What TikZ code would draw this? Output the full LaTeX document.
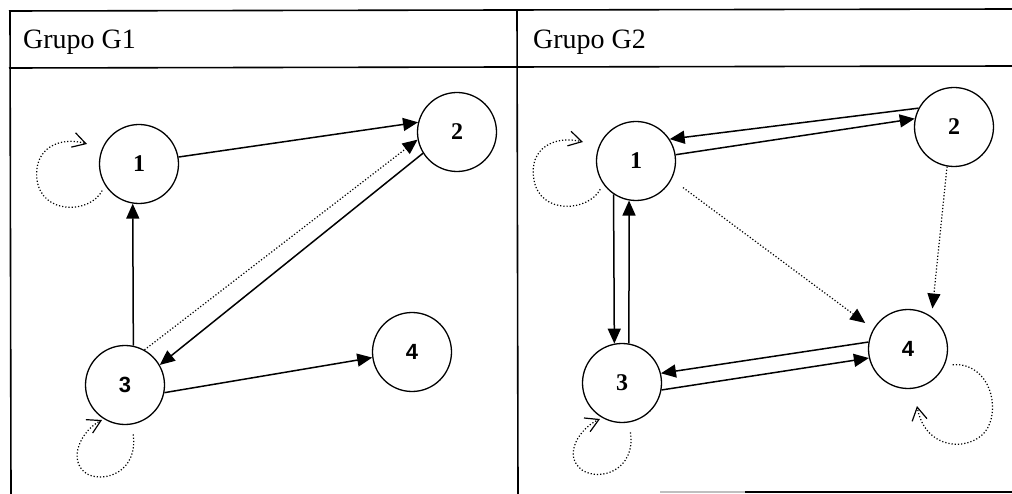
\documentclass[tikz,border=0pt]{standalone}
\usepackage{fontspec}
\setmainfont{Liberation Serif}
\newfontfamily\arialfont{Liberation Sans}
\usetikzlibrary{arrows.meta}
\tikzset{
  vtx/.style={circle,draw,line width=1.3pt,minimum size=79pt,inner sep=0pt,font=\fontsize{24}{28}\selectfont\bfseries},
  vtxs/.style={vtx,font=\fontsize{22}{26}\selectfont\arialfont\bfseries},
  edge/.style={line width=1.5pt,-{Triangle[length=15pt,width=13pt]}},
  dedge/.style={line width=1.2pt,dash pattern=on 1.2pt off 2pt,-{Triangle[length=15pt,width=13pt]}},
  loopedge/.style={line width=1.2pt,dash pattern=on 1.2pt off 2pt,-{Straight Barb[length=13pt,width=15pt,line width=1.2pt]}},
  hdr/.style={anchor=base west,inner sep=0pt,font=\fontsize{28}{33}\selectfont},
  rule/.style={line width=1.6pt}
}
\begin{document}
\begin{tikzpicture}[x=1pt,y=-1pt]
\useasboundingbox (0,0) rectangle (1012,494);
% table
\draw[rule] (9,11) -- (1012,9);
\draw[rule] (9,68) -- (1012,66);
\draw[rule] (10,11) -- (11,494);
\draw[rule] (517,10) -- (518,494);
\draw[line width=1.2pt,gray!50] (660,492) -- (745,492);
\draw[line width=1.4pt] (745,492) -- (1012,492);
\node[hdr] (h1) at (23,49) {Grupo G1};
\node[hdr] (h2) at (533,49) {Grupo G2};
% G1 nodes
\node[vtx] (a1) at (139,164) {1};
\node[vtx] (a2) at (457,132) {2};
\node[vtxs] (a3) at (125,385) {3};
\node[vtxs] (a4) at (412,352) {4};
% G2 nodes
\node[vtx] (b1) at (636,161) {1};
\node[vtx] (b2) at (954,127) {2};
\node[vtx] (b3) at (622,383) {3};
\node[vtxs] (b4) at (908,349) {4};
% G1 edges
\draw[edge] (a1.10) -- (a2.166);
\draw[edge] (a3.78) -- (a1.-99);
\draw[edge] (a2.212) -- (a3.30);
\draw[dedge] (a3.61) -- (a2.191);
\draw[edge] (a3.-11) -- (a4.188);
\coordinate (a1t) at (87,144);
\coordinate (a3t) at (102,420);
\draw[loopedge,shorten <=6pt] (a1.212) .. controls (90,214) and (42,215) .. (37,180) .. controls (33,148) and (60,136) .. (a1t);
\draw[loopedge,shorten <=10pt] (a3.-80) .. controls (138,472) and (105,483) .. (87,474) .. controls (66,460) and (82,430) .. (a3t);
% G2 edges
\draw[edge] (b2.152) -- (b1.33);
\draw[edge] (b1.9) -- (b2.168);
\draw[edge] (b1.-124) -- (b3.101.5);
\draw[edge] (b3.80) -- (b1.-100);
\draw[edge] (b4.170) -- (b3.14);
\draw[edge] (b3.-10) -- (b4.193);
\draw[dedge,shorten <=14pt,shorten >=10pt] (b1.-27) -- (b4.150);
\draw[dedge,shorten >=8pt] (b2.-100) -- (b4.54);
\coordinate (b1t) at (583,142);
\coordinate (b3t) at (600,419);
\coordinate (b4t) at (917,406);
\draw[loopedge,shorten <=6pt] (b1.215) .. controls (588,212) and (540,215) .. (534,180) .. controls (528,148) and (555,135) .. (b1t);
\draw[loopedge,shorten <=10pt] (b3.-80) .. controls (636,470) and (600,482) .. (582,470) .. controls (562,455) and (580,428) .. (b3t);
\draw[loopedge,shorten <=8pt] (b4.-24) .. controls (990,362) and (1002,410) .. (985,432) .. controls (968,452) and (925,450) .. (b4t);
\end{tikzpicture}
\end{document}
